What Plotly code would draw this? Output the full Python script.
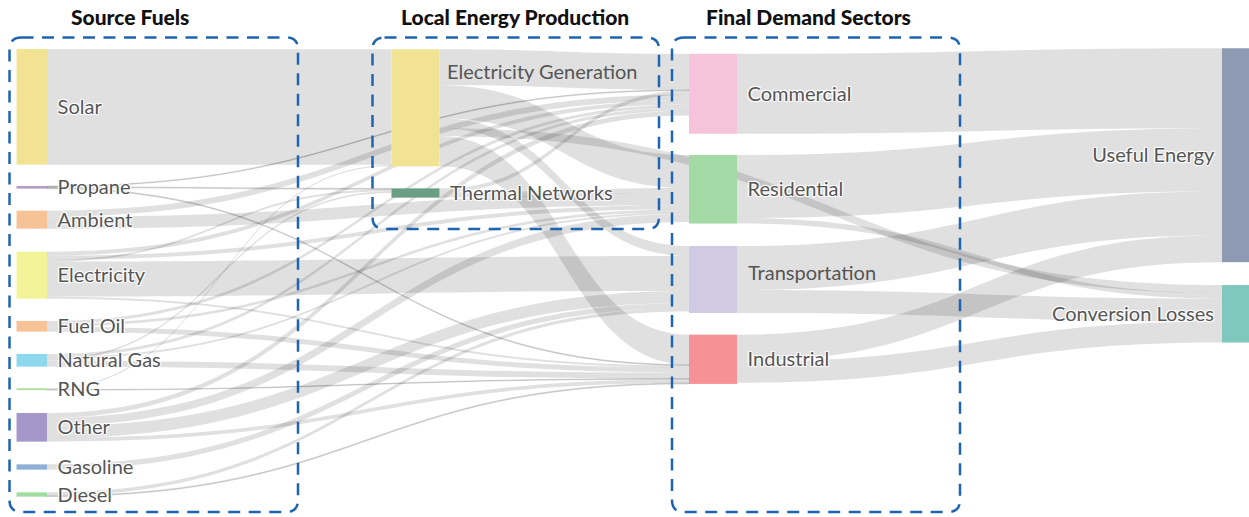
import plotly.graph_objects as go

W, H = 1249, 517

# nodes
labels = ['Solar', 'Propane', 'Ambient', 'Electricity', 'Fuel Oil', 'Natural Gas', 'RNG',
          'Other', 'Gasoline', 'Diesel',
          '', 'Thermal Networks',
          'Commercial', 'Residential', '', 'Industrial',
          'Useful Energy', 'Conversion Losses']
colors = ['#f2e294', '#b89ec4', '#f7c396', '#f3f398', '#f7c396', '#8dd8ec', '#b3e09c',
          '#a598c8', '#8fb0d6', '#a3dca0',
          '#f2e294', '#6a9f85',
          '#f5c4da', '#a3d9a5', '#d0cae4', '#f69297',
          '#8e99b2', '#80c7bd']
# node centres in pixels
node_px_x = [23] * 10 + [415.5] * 2 + [713] * 4 + [1246] * 2
node_px_y = [106.8, 187.3, 219.7, 275.2, 326.3, 360.3, 389.2, 427.3, 467.0, 494.5,
             107.8, 193.0,
             93.8, 189.3, 279.5, 359.3,
             155.2, 313.8]

# links
src = [0,
       1, 1, 1,
       2, 2,
       3, 3, 3, 3, 3,
       4, 4, 4,
       5, 5, 5, 5,
       6, 6,
       7, 7, 7, 7,
       8,
       9, 9,
       10, 10, 10, 10, 10,
       11, 11,
       12, 13, 13, 14, 14, 15, 15]
tgt = [10,
       11, 12, 15,
       13, 12,
       14, 12, 13, 15, 11,
       15, 12, 13,
       15, 12, 13, 11,
       10, 15,
       14, 13, 12, 15,
       14,
       14, 15,
       12, 13, 14, 15, 17,
       12, 13,
       16, 16, 17, 16, 17, 16, 17]
val = [115.7,
       1.0, 0.8, 0.9,
       12, 6,
       35, 4, 4, 2, 2,
       5, 3, 2.7,
       6, 3, 2, 1.7,
       1.3, 0.7,
       12, 8, 5, 3.7,
       5.3,
       3.3, 1.0,
       36, 33, 10, 30, 8,
       4, 5.3,
       80, 63, 5.5, 44, 23, 27, 21]


def px(x):
    return x / W


def py(y):
    return 1 - y / H


NB = '\u00a0'
node_text = [(l + NB if i >= 16 else NB + '\u2009' + l) if l else l for i, l in enumerate(labels)]

fig = go.Figure(go.Sankey(
    arrangement='fixed',
    domain=dict(x=[0, 1], y=[0, 1]),
    node=dict(
        label=node_text,
        color=colors,
        x=[px(v) for v in node_px_x],
        y=[v / H for v in node_px_y],
        pad=30,
        thickness=48,
        line=dict(width=0),
        hoverinfo='none',
    ),
    link=dict(source=src, target=tgt, value=val, color='rgba(0,0,0,0.12)', hoverinfo='none'),
    textfont=dict(family='Lato', size=20, color='#555555'),
))


def box(x0, y0, x1, y1, r=12):
    def p(x, y):
        return f'{px(x):.5f},{py(y):.5f}'
    return (f'M {p(x0 + r, y0)} L {p(x1 - r, y0)} Q {p(x1, y0)} {p(x1, y0 + r)} '
            f'L {p(x1, y1 - r)} Q {p(x1, y1)} {p(x1 - r, y1)} '
            f'L {p(x0 + r, y1)} Q {p(x0, y1)} {p(x0, y1 - r)} '
            f'L {p(x0, y0 + r)} Q {p(x0, y0)} {p(x0 + r, y0)} Z')


# white strip trims the source-fuel nodes to their narrower look
shapes = [dict(type='rect', xref='paper', yref='paper', x0=px(-2), x1=px(16.5),
               y0=py(505), y1=py(40), fillcolor='white', line=dict(width=0),
               layer='above')]
for bx in [(9.5, 37.5, 298, 512), (372.5, 37.5, 659, 229), (672, 37.5, 960, 512)]:
    shapes.append(dict(type='path', xref='paper', yref='paper', path=box(*bx),
                       line=dict(color='#1f64b0', width=2.5, dash='12px,8.5px'),
                       layer='above'))

annotations = []
for txt, cx in [('Source Fuels', 130), ('Local Energy Production', 515), ('Final Demand Sectors', 809)]:
    annotations.append(dict(text=txt, x=px(cx), y=py(17), xref='paper', yref='paper',
                            xanchor='center', yanchor='middle', showarrow=False,
                            font=dict(family='Lato', size=21, color='#111111', weight=900)))
for txt, lx, ly in [('Electricity Generation', 445, 71), ('Transportation', 746, 272)]:
    annotations.append(dict(text=txt, x=px(lx), y=py(ly), xref='paper', yref='paper',
                            xanchor='left', yanchor='middle', showarrow=False,
                            font=dict(family='Lato', size=20, color='#555555')))

fig.update_layout(
    width=W, height=H, autosize=False,
    margin=dict(l=0, r=0, t=0, b=0),
    paper_bgcolor='white',
    shapes=shapes,
    annotations=annotations,
)
fig.write_html('out.html', config={'displayModeBar': False},
               post_script="document.body.style.margin = '0';")
